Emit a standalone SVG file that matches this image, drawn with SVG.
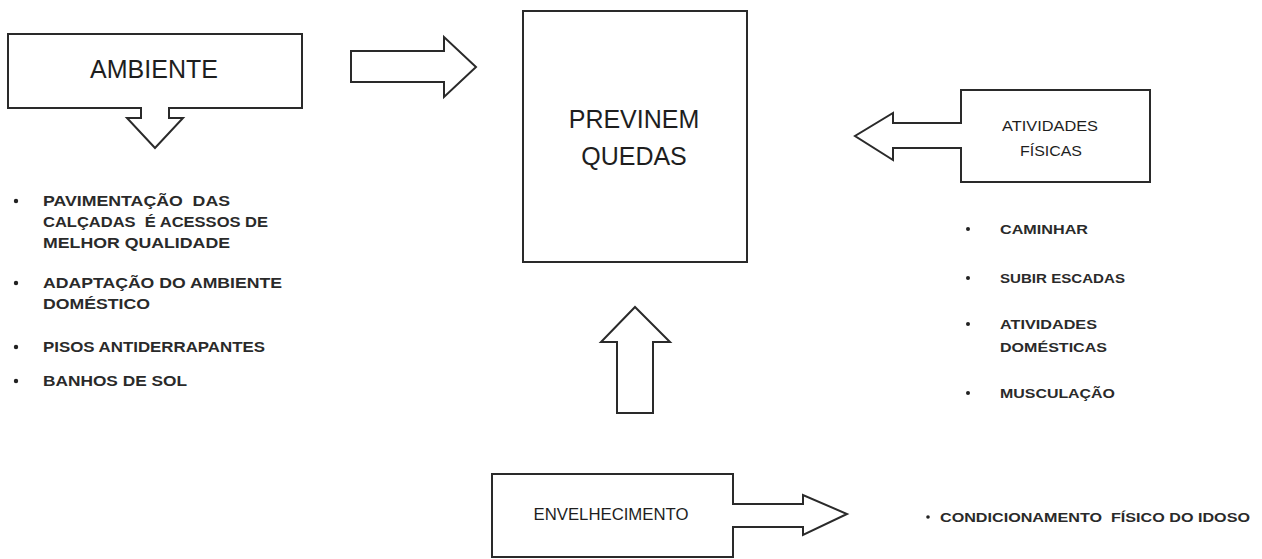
<svg xmlns="http://www.w3.org/2000/svg" width="1262" height="559" viewBox="0 0 1262 559">
  <style>
    .shape { fill: #ffffff; stroke: #2a2a2a; stroke-width: 2; stroke-linejoin: miter; }
    .label { font-family: "Liberation Sans", Arial, sans-serif; fill: #1e1e1e; }
    .big { font-size: 25px; text-anchor: middle; }
    .mid { font-size: 16px; text-anchor: middle; }
    .item { font-size: 14px; font-weight: bold; fill: #2a2a2a; white-space: pre; }
    .small { font-size: 12px; font-weight: bold; fill: #2a2a2a; white-space: pre; }
    .dot { fill: #222222; }
  </style>

  <!-- Callout box with downward arrow -->
  <g id="ambiente">
    <path class="shape" d="M8,34 H302 V108 H169 V118 H183 L155,148 L127,118 H141 V108 H8 Z"/>
    <text class="label big" x="154" y="78">AMBIENTE</text>
  </g>

  <g id="ambiente-list">
    <circle class="dot" cx="16" cy="201" r="2.2"/>
    <text class="label item" x="43" y="206" textLength="187" lengthAdjust="spacingAndGlyphs">PAVIMENTAÇÃO  DAS</text>
    <text class="label item" x="43" y="227" textLength="225" lengthAdjust="spacingAndGlyphs">CALÇADAS  É ACESSOS DE</text>
    <text class="label item" x="43" y="248" textLength="187" lengthAdjust="spacingAndGlyphs">MELHOR QUALIDADE</text>
    <circle class="dot" cx="16" cy="283" r="2.2"/>
    <text class="label item" x="43" y="288" textLength="239" lengthAdjust="spacingAndGlyphs">ADAPTAÇÃO DO AMBIENTE</text>
    <text class="label item" x="43" y="309" textLength="107" lengthAdjust="spacingAndGlyphs">DOMÉSTICO</text>
    <circle class="dot" cx="16" cy="347" r="2.2"/>
    <text class="label item" x="43" y="352" textLength="222" lengthAdjust="spacingAndGlyphs">PISOS ANTIDERRAPANTES</text>
    <circle class="dot" cx="16" cy="381" r="2.2"/>
    <text class="label item" x="43" y="386" textLength="144" lengthAdjust="spacingAndGlyphs">BANHOS DE SOL</text>
  </g>

  <g id="previnem-quedas">
    <rect class="shape" x="523" y="11" width="224" height="251"/>
    <text class="label big" x="634" y="128">PREVINEM</text>
    <text class="label big" x="634" y="165">QUEDAS</text>
  </g>

  <!-- Callout box with leftward arrow -->
  <g id="atividades-fisicas">
    <path class="shape" d="M961,90 H1150 V182 H961 V148 H893 V160 L855,136 L893,113 V123 H961 Z"/>
    <text class="label mid" x="1050" y="131" style="font-size:15px" textLength="96" lengthAdjust="spacingAndGlyphs">ATIVIDADES</text>
    <text class="label mid" x="1051" y="156" style="font-size:15px" textLength="62" lengthAdjust="spacingAndGlyphs">FÍSICAS</text>
  </g>

  <g id="atividades-list">
    <circle class="dot" cx="968" cy="229" r="2"/>
    <text class="label small" x="1000" y="234" textLength="88" lengthAdjust="spacingAndGlyphs">CAMINHAR</text>
    <circle class="dot" cx="968" cy="278" r="2"/>
    <text class="label small" x="1000" y="283" textLength="125" lengthAdjust="spacingAndGlyphs">SUBIR ESCADAS</text>
    <circle class="dot" cx="968" cy="324" r="2"/>
    <text class="label small" x="1000" y="329" textLength="97" lengthAdjust="spacingAndGlyphs">ATIVIDADES</text>
    <text class="label small" x="1000" y="352" textLength="107" lengthAdjust="spacingAndGlyphs">DOMÉSTICAS</text>
    <circle class="dot" cx="968" cy="393" r="2"/>
    <text class="label small" x="1000" y="398" textLength="115" lengthAdjust="spacingAndGlyphs">MUSCULAÇÃO</text>
  </g>

  <!-- Callout box with rightward arrow -->
  <g id="envelhecimento">
    <path class="shape" d="M492,474 H733 V504 H803 V495 L847,514 L803,535 V527 H733 V557 H492 Z"/>
    <text class="label mid" x="611" y="520" textLength="155" lengthAdjust="spacingAndGlyphs">ENVELHECIMENTO</text>
  </g>

  <g id="condicionamento">
    <circle class="dot" cx="928" cy="517" r="1.8"/>
    <text class="label small" x="940" y="522" textLength="310" lengthAdjust="spacingAndGlyphs">CONDICIONAMENTO  FÍSICO DO IDOSO</text>
  </g>

  <g id="connectors">
    <path class="shape" d="M351,51 H444 V37 L476,67 L444,97 V82 H351 Z"/>
    <path class="shape" d="M617,413 V342 H601 L635,307 L670,342 H653 V413 Z"/>
  </g>
</svg>
